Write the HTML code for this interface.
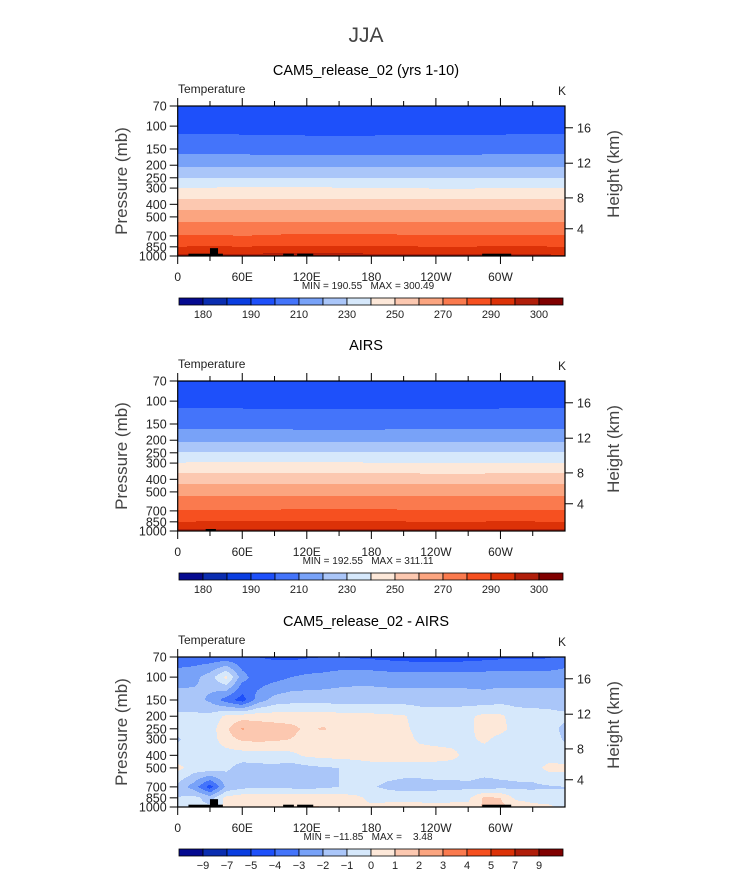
<!DOCTYPE html>
<html><head><meta charset="utf-8"><style>
html,body{margin:0;padding:0;background:#fff}
svg{display:block;font-family:"Liberation Sans",sans-serif}
text{white-space:pre}
</style></head><body>
<svg id="fig" width="733" height="872" viewBox="0 0 733 872" xmlns="http://www.w3.org/2000/svg">
<text x="366" y="42" text-anchor="middle" font-size="21" fill="#444" font-weight="300">JJA</text>
</svg>
<script>
const levels=[70,100,150,200,250,300,400,500,700,850,1000];
const lons13=[0,30,60,90,120,150,180,210,240,270,300,330,360];
const lons25=[0,15,30,45,60,75,90,105,120,135,150,165,180,195,210,225,240,255,270,285,300,315,330,345,360];
const xTickLabels=["0","60E","120E","180","120W","60W"];
const heightTicks=[16,12,8,4];
const heightTickP=[103,193,357,617];
const colors=['#050a90','#0a2db0','#0a3ee0','#1e50fa','#4474fa','#78a2f8','#aac6f9','#d6e8fb','#fde8d9','#fcc8b0','#fba580','#fa7a4e','#f65020','#dc3208','#b01e0a','#800000'];
const tLevels=[180,185,190,200,210,220,230,240,250,260,270,280,290,295,300];
const tLabels=["180","","190","","210","","230","","250","","270","","290","","300"];
const dLevels=[-9,-7,-5,-4,-3,-2,-1,0,1,2,3,4,5,7,9];
const dLabels=["−9","−7","−5","−4","−3","−2","−1","0","1","2","3","4","5","7","9"];
const camT=[
[194,194,194,194,194,194,194,194,194,194,194,194,194],
[196.5,196.5,196.5,196.5,196.5,196.5,196.5,196.5,196.5,196.5,196.5,196.5,196.5],
[206.5,206.5,206,205.5,205,205,205,205.3,205.5,205.8,206,206.3,206.5],
[218,218,218,218,217.8,217.8,217.8,218,218,218,218,218,218],
[230,230,230,230,230,230,230,230,230,230,230,230,230],
[240,240.5,241,241,241,240.5,240.5,240,239.5,239.5,240,240,240],
[255,255,255,255,255,255,255,255,255,255,255,255,255],
[266,266,266,266,266,266,266,266,266,266,266,266,266],
[281,281,280,281,281.5,281.5,281.5,281,281,281,281,281,281],
[290,291,290,291,291,291,290.5,290.5,290,290,291,290.5,290],
[296,296,296,297,297,297,296.5,296.5,296,296,296.5,296.5,295.5]];
const airsT=[
[189.5,189.6,189.7,189.6,189.5,189.5,189.6,189.7,189.6,189.5,189.5,189.6,189.5],
[197,197,197,197,197,197,197,197,197,197,197,197,197],
[206.5,206.5,206.3,206,205.8,205.8,205.8,206,206,206.2,206.3,206.4,206.5],
[218,218,218,218,218,218,218,218,218,218,218,218,218],
[230.5,230.5,230.5,230.5,230.5,230.5,230.5,230.5,230.5,230.5,230.5,230.5,230.5],
[240.5,240.8,241,241,241,240.8,240.5,240.3,240,240,240.3,240.5,240.5],
[255.5,255.5,255.5,255.5,255.5,255.5,255.5,255.5,255.5,255.5,255.5,255.5,255.5],
[266.5,266.5,266.5,266.5,266.5,266.5,266.5,266.5,266.5,266.5,266.5,266.5,266.5],
[281,281,281,281,281.3,281.3,281.3,281,281,281,281,281,281],
[290,290.5,290.3,290.5,290.5,290.5,290.3,290.3,290,290,290.5,290.3,290],
[296,296,296.5,296.5,296.5,296.5,296.3,296.3,296,296,296.3,296.3,296]];
const diffT=[
[-3.6,-3.6,-3.7,-3.8,-3.8,-4.0,-4.1,-4.2,-4.1,-4.0,-4.0,-4.1,-4.2,-4.3,-4.4,-4.5,-4.5,-4.5,-4.4,-4.3,-4.2,-4.2,-4.2,-4.1,-3.6],
[-2.5,-2.3,-1.5,0.3,-2.6,-3.6,-3.4,-3.0,-2.8,-2.7,-2.5,-2.4,-2.4,-2.5,-2.5,-2.5,-2.5,-2.5,-2.5,-2.5,-2.5,-2.5,-2.5,-2.5,-2.5],
[-1.5,-1.6,-2.2,-3.5,-4.5,-2.5,-1.6,-1.4,-1.4,-1.4,-1.4,-1.4,-1.4,-1.4,-1.4,-1.4,-1.4,-1.4,-1.5,-1.6,-1.4,-1.4,-1.4,-1.4,-1.5],
[-0.8,-0.8,-0.7,0.2,0.5,0.6,0.5,0.5,0.5,0.5,0.4,0.4,0.3,0.2,0.1,-0.4,-0.5,-0.5,-0.2,0.3,0.2,-0.5,-0.6,-0.7,-0.8],
[-0.7,-0.6,-0.5,0.8,2.1,1.6,1.5,1.3,0.8,1.1,0.7,0.6,0.5,0.4,0.2,-0.3,-0.5,-0.5,-0.2,0.4,0.3,-0.4,-0.5,-0.7,-1.2],
[-1.1,-0.6,-0.5,0.6,1.2,1.3,1.2,1.0,0.6,0.5,0.6,0.6,0.6,0.5,0.4,-0.2,-0.4,-0.4,-0.2,0.2,-0.3,-0.5,-0.5,-0.6,-1.1],
[-0.6,-0.6,-0.6,-0.5,-0.5,-0.5,-0.5,-0.3,0.2,0.3,0.4,0.4,0.5,0.5,0.5,0.5,0.5,0.3,-0.4,-0.5,-0.5,-0.5,-0.5,-0.5,-0.6],
[0.3,-0.4,-0.3,-0.8,-1.4,-1.3,-1.2,-1.5,-1.3,-1.1,-1.0,-0.7,-0.5,-0.5,-0.5,-0.5,-0.5,-0.5,-0.5,-0.5,-0.5,-0.5,-0.4,0.3,0.3],
[-1.3,-2.5,-4.5,-1.8,-1.3,-1.2,-1.2,-1.3,-1.4,-1.2,-1.0,-0.8,-0.9,-1.2,-1.4,-1.4,-1.3,-1.3,-1.2,-1.5,-1.3,-1.2,-1.2,-1.1,-1.0],
[-1.0,-0.6,-1.5,0.3,0.6,0.7,0.6,0.8,0.7,0.6,0.5,0.3,-0.3,-0.4,-0.4,-0.4,-0.4,-0.3,-0.2,1.2,1.0,-0.3,-0.4,-0.5,-1.0],
[-0.5,-0.8,-0.8,0.3,0.5,0.5,0.5,0.6,1.1,1.0,0.8,0.3,0.2,0.4,0.4,0.4,0.3,0.3,0.2,1.2,1.3,0.8,0.3,0.2,-0.3]];
const topoCam=[[10,42,960],[30,37.5,870],[98,108,960],[111,126,960],[283,310,960]];
const topoAirs=[[26,35.5,965]];

const NS='http://www.w3.org/2000/svg';
const svg=document.getElementById('fig');
function mk(tag,attrs,parent){const e=document.createElementNS(NS,tag);for(const k in attrs)e.setAttribute(k,attrs[k]);(parent||svg).appendChild(e);return e;}
const X0=177.7,X1=565,PH=150;
const xS=lon=>X0+(lon/360)*(X1-X0);
function yS(p,top){return top+PH*Math.log(p/70)/Math.log(1000/70);}
function pOfY(y,top){return 70*Math.exp((y-top)/PH*Math.log(1000/70));}
function fieldVal(grid,lons,lon,p){
  let i=0;while(i<levels.length-2&&p>levels[i+1])i++;
  let fp=(Math.log(p)-Math.log(levels[i]))/(Math.log(levels[i+1])-Math.log(levels[i]));
  fp=Math.max(0,Math.min(1,fp));
  let j=0;while(j<lons.length-2&&lon>lons[j+1])j++;
  let fl=(lon-lons[j])/(lons[j+1]-lons[j]);fl=Math.max(0,Math.min(1,fl));
  const a=grid[i][j]*(1-fl)+grid[i][j+1]*fl,b=grid[i+1][j]*(1-fl)+grid[i+1][j+1]*fl;
  return a*(1-fp)+b*fp;
}
function cIdx(v,lv){let k=0;while(k<lv.length&&v>=lv[k])k++;return k;}

function panel(top,title,grid,lons,lv,labels,topo,minmax){
  const g=mk('g',{});
  
  
  const t=mk('text',{x:366,y:top-31,'text-anchor':'middle','font-size':14.5,fill:'#000'},g);t.textContent=title;
  
  
  const tt=mk('text',{x:178,y:top-13,'font-size':12,fill:'#222'},g);tt.textContent='Temperature';
  
  
  const tk=mk('text',{x:558,y:top-11,'font-size':12,fill:'#222'},g);tk.textContent='K';
  
  
  const fg=mk('g',{'shape-rendering':'crispEdges'},g);
  
  
  for(let y=Math.round(top);y<Math.round(top+PH);y++){
    const p=pOfY(y+0.5,top);
    let runStart=Math.round(X0),prev=-1;
    for(let x=Math.round(X0);x<=Math.round(X1);x++){
      let c=-2;
      if(x<Math.round(X1)){const lon=(x+0.5-X0)/(X1-X0)*360;c=cIdx(fieldVal(grid,lons,lon,p),lv);}
      if(c!==prev){
        if(prev>=0){const r=mk('rect',{x:runStart,y:y,width:x-runStart,height:1,fill:colors[prev]},fg);
          
          }
        runStart=x;prev=c;
      }
    }
  }
  topo.forEach(b=>{const r=mk('rect',{x:xS(b[0]),y:yS(b[2],top),width:xS(b[1])-xS(b[0]),height:top+PH-yS(b[2],top),fill:'#000'},g);
    
    });
  const fr=mk('rect',{x:X0,y:top,width:X1-X0,height:PH,fill:'none',stroke:'#000','stroke-width':1.2},g);
  
  
  for(let lon=0;lon<360;lon+=30){
    const major=lon%60===0,L=major?8:5,x=xS(lon);
    mk('line',{x1:x,y1:top,x2:x,y2:top-L,stroke:'#000'},g);
    mk('line',{x1:x,y1:top+PH,x2:x,y2:top+PH+L,stroke:'#000'},g);
    if(major){const l=mk('text',{x:x,y:top+PH+25,'text-anchor':'middle','font-size':12,fill:'#222'},g);l.textContent=xTickLabels[lon/60];
      
      }
  }
  levels.forEach(p=>{const y=yS(p,top);mk('line',{x1:X0,y1:y,x2:X0-8,y2:y,stroke:'#000'},g);
    const l=mk('text',{x:X0-11,y:y+4.5,'text-anchor':'end','font-size':12.5,fill:'#222'},g);l.textContent=p;
    
    });
  heightTicks.forEach((h,i)=>{const y=yS(heightTickP[i],top);mk('line',{x1:X1,y1:y,x2:X1+8,y2:y,stroke:'#000'},g);
    const l=mk('text',{x:X1+12,y:y+4.5,'font-size':12.5,fill:'#222'},g);l.textContent=h;
    
    });
  const yl=mk('text',{transform:`translate(127,${top+75}) rotate(-90)`,'text-anchor':'middle','font-size':17,fill:'#444'},g);yl.textContent='Pressure (mb)';
  
  
  const yr=mk('text',{transform:`translate(619,${top+68}) rotate(-90)`,'text-anchor':'middle','font-size':17,fill:'#444'},g);yr.textContent='Height (km)';
  
  
  const mm=mk('text',{x:368,y:top+PH+33,'text-anchor':'middle','font-size':10,fill:'#222'},g);mm.textContent=minmax;
  
  
  const cb=mk('g',{},g);
  
  
  const cy=top+PH+42,cw=24,cx=179;
  colors.forEach((c,i)=>{const r=mk('rect',{x:cx+i*cw,y:cy,width:cw,height:7,fill:c,stroke:'#000','stroke-width':0.8},cb);
    
    });
  labels.forEach((s,i)=>{if(!s)return;const l=mk('text',{x:cx+(i+1)*cw,y:cy+20,'text-anchor':'middle','font-size':11,fill:'#222'},cb);l.textContent=s;
    
    });
}
panel(106,'CAM5_release_02 (yrs 1-10)',camT,lons13,tLevels,tLabels,topoCam,'MIN = 190.55   MAX = 300.49');
panel(381,'AIRS',airsT,lons13,tLevels,tLabels,topoAirs,'MIN = 192.55   MAX = 311.11');
panel(657,'CAM5_release_02 - AIRS',diffT,lons25,dLevels,dLabels,topoCam,'MIN = −11.85   MAX =    3.48');
</script>
</body></html>
